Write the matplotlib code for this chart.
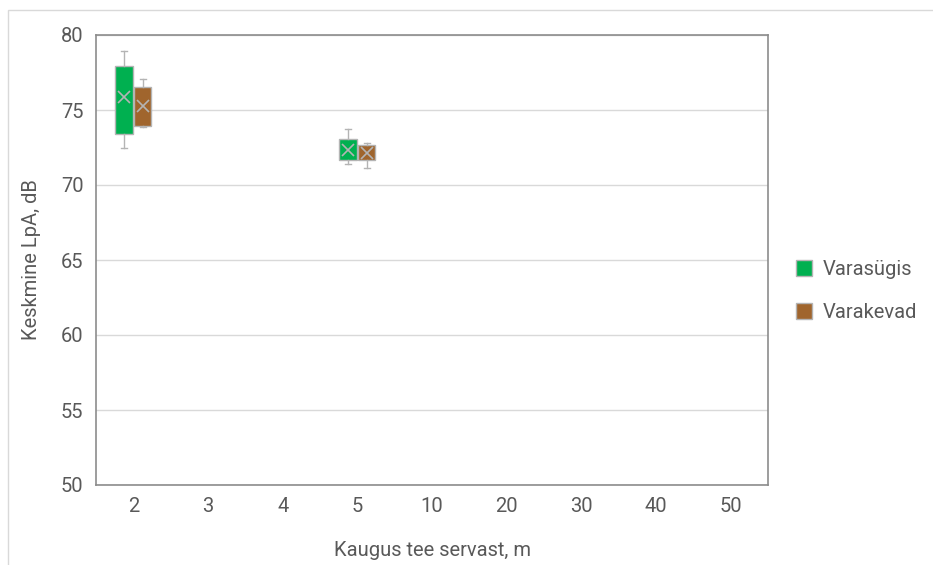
import numpy as np
import matplotlib.pyplot as plt
from matplotlib.patches import Rectangle, Patch

plt.rcParams['font.family'] = ['Roboto', 'DejaVu Sans']

categories = ['2', '3', '4', '5', '10', '20', '30', '40', '50']

# Varasügis: kategooria indeks -> (min, Q1, mediaan, Q3, max, keskmine)
sygis_idx = [0, 3]
sygis_min = [72.5, 71.4]
sygis_q1 = [73.4, 71.67]
sygis_med = [75.0, 72.3]
sygis_q3 = [77.93, 73.05]
sygis_max = [78.93, 73.71]
sygis_mean = [75.9, 72.33]

# Varakevad
kevad_idx = [0, 3]
kevad_min = [73.85, 71.11]
kevad_q1 = [73.95, 71.67]
kevad_med = [75.0, 72.2]
kevad_q3 = [76.55, 72.67]
kevad_max = [77.09, 72.82]
kevad_mean = [75.27, 72.15]

green = '#00b050'
brown = '#a0652d'
edge = '#b4b4b4'
text_c = '#595959'
fs = 14.5


def make_stats(mins, q1s, meds, q3s, maxs, means):
    stats = []
    for lo, q1, med, q3, hi, mu in zip(mins, q1s, meds, q3s, maxs, means):
        stats.append(dict(whislo=lo, q1=q1, med=med, q3=q3, whishi=hi, mean=mu, fliers=[]))
    return stats


fig = plt.figure(figsize=(9.33, 5.65), dpi=100)
ax = fig.add_axes([96 / 933, 1 - 485 / 565, 672 / 933, 450 / 565])

# raam ümber kogu diagrammi
fig.patches.append(Rectangle((8 / 933, -0.01), 1.0, 1 - 10 / 565 + 0.01,
                             transform=fig.transFigure, fill=False,
                             edgecolor='#d9d9d9', linewidth=1.0, zorder=0))

width = 0.23
offset = 0.125
for idx, stats, color in [
    (sygis_idx, make_stats(sygis_min, sygis_q1, sygis_med, sygis_q3, sygis_max, sygis_mean), green),
    (kevad_idx, make_stats(kevad_min, kevad_q1, kevad_med, kevad_q3, kevad_max, kevad_mean), brown),
]:
    shift = -offset if color == green else offset
    pos = [i + shift for i in idx]
    ax.bxp(stats, positions=pos, widths=width, patch_artist=True,
           showmeans=True, showfliers=False,
           boxprops=dict(facecolor=color, edgecolor=edge, linewidth=1.0),
           whiskerprops=dict(color=edge, linewidth=1.0),
           capprops=dict(color=edge, linewidth=1.0),
           medianprops=dict(color=color, linewidth=0),
           meanprops=dict(marker='x', markeredgecolor=edge, markersize=8, markeredgewidth=1.2),
           capwidths=0.08, zorder=3, manage_ticks=False)

ax.set_xlim(-0.5, len(categories) - 0.5)
ax.set_ylim(50, 80)
ax.set_xticks(range(len(categories)))
ax.set_xticklabels(categories)
ax.set_yticks(np.arange(50, 81, 5))
ax.yaxis.grid(True, color='#d9d9d9', linewidth=1.0, zorder=0)
ax.set_axisbelow(True)
ax.tick_params(axis='both', length=0, labelsize=fs, colors=text_c, pad=9)
for s in ax.spines.values():
    s.set_color('#8c8c8c')
    s.set_linewidth(1.2)

ax.set_xlabel('Kaugus tee servast, m', fontsize=fs, color=text_c, labelpad=18)
ax.set_ylabel('Keskmine LpA, dB', fontsize=fs, color=text_c, labelpad=14)

handles = [Patch(facecolor=green, edgecolor=edge, label='Varasügis'),
           Patch(facecolor=brown, edgecolor=edge, label='Varakevad')]
fig.legend(handles=handles, loc='center left', bbox_to_anchor=(778 / 933, 1 - 291 / 565),
           frameon=False, fontsize=fs, labelcolor=text_c, handlelength=0.8,
           handleheight=0.8, labelspacing=1.2, handletextpad=0.5)

fig.savefig('out.png', dpi=100)
